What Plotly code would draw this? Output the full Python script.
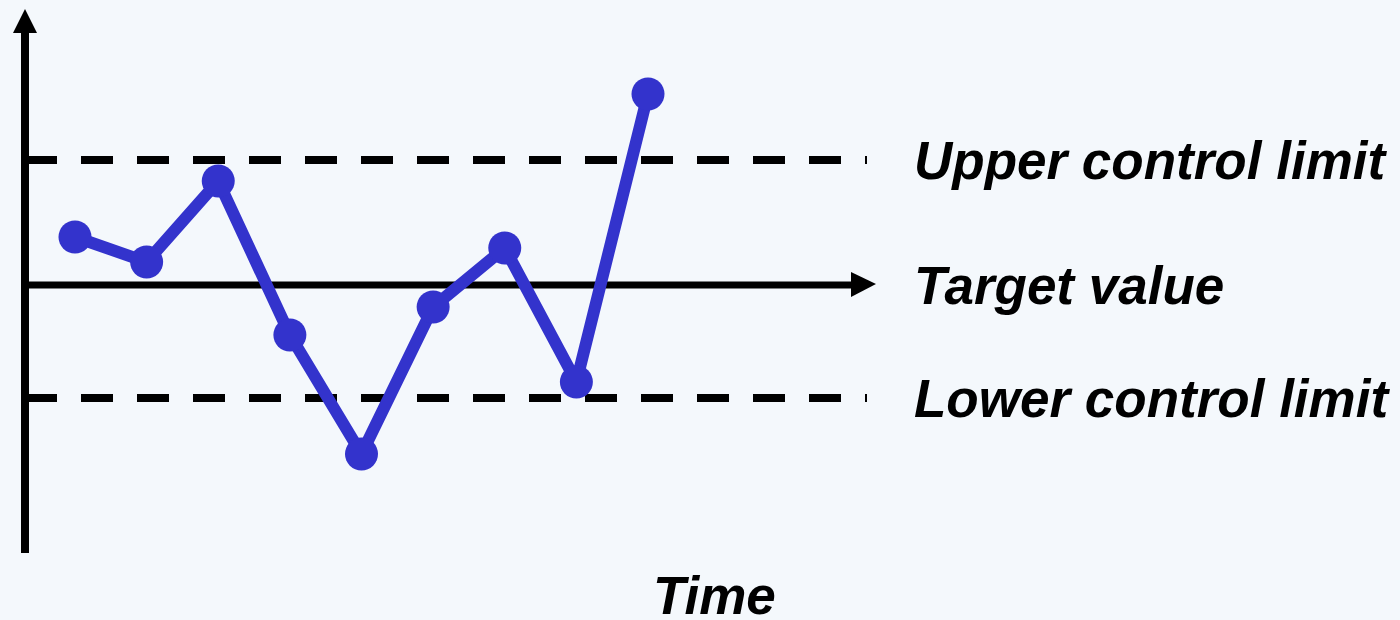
import plotly.graph_objects as go

# Process measurements over time
time_points = [1, 2, 3, 4, 5, 6, 7, 8, 9]
measurements = [4.8, 2.3, 10.4, -5.0, -16.9, -2.2, 3.7, -9.7, 19.1]

# Control chart reference levels
target_value = 0.0
upper_limit = 12.5
lower_limit = -11.3

labels = ["Upper control limit", "Target value", "Lower control limit"]
axis_title = "Time"

W, H = 1400, 620
BG = "#F4F8FC"
BLUE = "#3333CC"
INK = "#000000"

# Pixel geometry of the drawing area
x_first_px, x_last_px = 75, 648
px_per_t = (x_last_px - x_first_px) / (time_points[-1] - time_points[0])
x_range = [time_points[0] - x_first_px / px_per_t,
           time_points[0] + (W - x_first_px) / px_per_t]
target_px = 285
px_per_v = 10.0
y_range = [target_value - (H - target_px) / px_per_v,
           target_value + target_px / px_per_v]

def px(x):
    return x / W

def py(y):
    return 1 - y / H

fig = go.Figure()

fig.add_trace(go.Scatter(
    x=time_points, y=measurements, mode="lines+markers",
    line=dict(color=BLUE, width=12),
    marker=dict(color=BLUE, size=33, line=dict(width=0)),
    hoverinfo="skip", showlegend=False,
))

shapes = []
# Dashed control limits
for lim in (upper_limit, lower_limit):
    shapes.append(dict(type="line", xref="paper", yref="y",
                       x0=px(25), x1=px(867), y0=lim, y1=lim,
                       line=dict(color=INK, width=8, dash="32px,24px"), layer="below"))
# Target line with arrow head
shapes.append(dict(type="line", xref="paper", yref="y",
                   x0=px(21), x1=px(853), y0=target_value, y1=target_value,
                   line=dict(color=INK, width=7), layer="below"))
shapes.append(dict(type="path", xref="paper", yref="paper",
                   path=f"M {px(851)},{py(272)} L {px(876)},{py(284)} L {px(851)},{py(297)} Z",
                   fillcolor=INK, line=dict(width=0), layer="below"))
# Vertical axis with arrow head
shapes.append(dict(type="line", xref="paper", yref="paper",
                   x0=px(25), x1=px(25), y0=py(553), y1=py(31),
                   line=dict(color=INK, width=8), layer="below"))
shapes.append(dict(type="path", xref="paper", yref="paper",
                   path=f"M {px(13)},{py(33)} L {px(25)},{py(9)} L {px(37)},{py(33)} Z",
                   fillcolor=INK, line=dict(width=0), layer="below"))

label_font = dict(family="Liberation Sans, Arial, sans-serif", size=53,
                  color=INK, weight="bold", style="italic")
annotations = []
for text, level in zip(labels, (upper_limit, target_value, lower_limit)):
    annotations.append(dict(text=text, xref="paper", yref="y", x=px(912), y=level,
                            xanchor="left", yanchor="middle", showarrow=False,
                            font=label_font))
annotations.append(dict(text=axis_title, xref="paper", yref="paper", x=px(714), y=py(595),
                        xanchor="center", yanchor="middle", showarrow=False,
                        font=label_font))

fig.update_layout(
    width=W, height=H,
    margin=dict(l=0, r=0, t=0, b=0),
    paper_bgcolor=BG, plot_bgcolor=BG,
    xaxis=dict(range=x_range, visible=False, fixedrange=True),
    yaxis=dict(range=y_range, visible=False, fixedrange=True),
    shapes=shapes, annotations=annotations,
    showlegend=False,
)

fig.write_html("out.html")
